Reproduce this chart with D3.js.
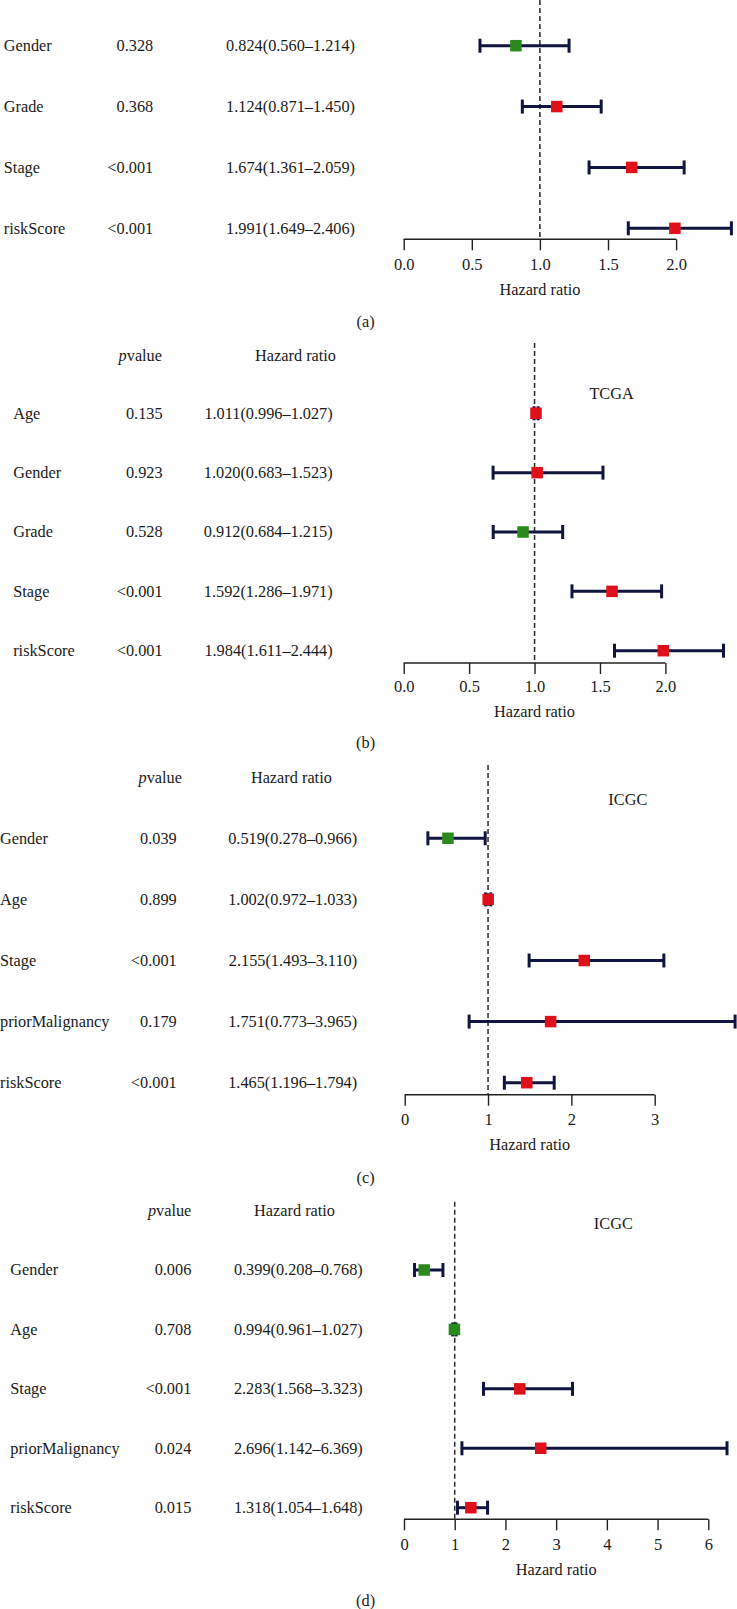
<!DOCTYPE html>
<html>
<head>
<meta charset="utf-8">
<script src="https://cdn.jsdelivr.net/npm/d3@7/dist/d3.min.js"></script>
<style>
  html, body { margin: 0; padding: 0; background: #fff; }
  svg { display: block; }
  text { font-family: "Liberation Serif", "DejaVu Serif", serif; fill: #1a1a1a; }
</style>
</head>
<body>
<div id="chart"></div>
<script>
// ---------------- DATA ----------------
// Panel (a)
const aLabels = ["Gender", "Grade", "Stage", "riskScore"];
const aPvals  = ["0.328", "0.368", "<0.001", "<0.001"];
const aHR     = [0.824, 1.124, 1.674, 1.991];
const aLow    = [0.560, 0.871, 1.361, 1.649];
const aHigh   = [1.214, 1.450, 2.059, 2.406];
const aTicks  = [0, 0.5, 1.0, 1.5, 2.0];

// Panel (b) TCGA
const bLabels = ["Age", "Gender", "Grade", "Stage", "riskScore"];
const bPvals  = ["0.135", "0.923", "0.528", "<0.001", "<0.001"];
const bHR     = [1.011, 1.020, 0.912, 1.592, 1.984];
const bLow    = [0.996, 0.683, 0.684, 1.286, 1.611];
const bHigh   = [1.027, 1.523, 1.215, 1.971, 2.444];
const bTicks  = [0, 0.5, 1.0, 1.5, 2.0];

// Panel (c) ICGC
const cLabels = ["Gender", "Age", "Stage", "priorMalignancy", "riskScore"];
const cPvals  = ["0.039", "0.899", "<0.001", "0.179", "<0.001"];
const cHR     = [0.519, 1.002, 2.155, 1.751, 1.465];
const cLow    = [0.278, 0.972, 1.493, 0.773, 1.196];
const cHigh   = [0.966, 1.033, 3.110, 3.965, 1.794];
const cTicks  = [0, 1, 2, 3];

// Panel (d) ICGC
const dLabels = ["Gender", "Age", "Stage", "priorMalignancy", "riskScore"];
const dPvals  = ["0.006", "0.708", "<0.001", "0.024", "0.015"];
const dHR     = [0.399, 0.994, 2.283, 2.696, 1.318];
const dLow    = [0.208, 0.961, 1.568, 1.142, 1.054];
const dHigh   = [0.768, 1.027, 3.323, 6.369, 1.648];
const dTicks  = [0, 1, 2, 3, 4, 5, 6];

const panelTitles = [null, "TCGA", "ICGC", "ICGC"];
const subLabels = ["(a)", "(b)", "(c)", "(d)"];
const headerP = "value";
const headerHR = "Hazard ratio";
const axisTitle = "Hazard ratio";

// ---------------- LAYOUT (positions/styles only) ----------------
const layout = [
  { firstRow: 45.7, lastRow: 228.3, axisY: 239.3, x0: 403.7, x1: 731.4, labelX: 3.8, pX: 153.2, hrX: 355,
    headerY: null, hPX: 0, hHRX: 0, titleX: 0, titleY: 0, dashTop: 0, tickLabY: 265, axisTitleY: 290, subY: 321.7, tickFmt: d3.format(".1f") },
  { firstRow: 413.3, lastRow: 650.7, axisY: 663, x0: 403.7, x1: 723.5, labelX: 13.2, pX: 162.6, hrX: 332.7,
    headerY: 356, hPX: 162, hHRX: 336, titleX: 611.6, titleY: 394, dashTop: 343, tickLabY: 687, axisTitleY: 711.7, subY: 743, tickFmt: d3.format(".1f") },
  { firstRow: 838.3, lastRow: 1082.7, axisY: 1094.7, x0: 404.7, x1: 735.1, labelX: 0, pX: 176.7, hrX: 357.1,
    headerY: 777.5, hPX: 181.9, hHRX: 331.8, titleX: 627.8, titleY: 799.3, dashTop: 765, tickLabY: 1120, axisTitleY: 1145, subY: 1177.3, tickFmt: d3.format("d") },
  { firstRow: 1270, lastRow: 1507.7, axisY: 1519.3, x0: 404, x1: 727.0, labelX: 10.3, pX: 191.3, hrX: 362.8,
    headerY: 1210.5, hPX: 191.3, hHRX: 335, titleX: 613.3, titleY: 1223.3, dashTop: 1201.7, tickLabY: 1545, axisTitleY: 1570, subY: 1601, tickFmt: d3.format("d") }
];

const panels = [
  { labels: aLabels, p: aPvals, hr: aHR, low: aLow, high: aHigh, ticks: aTicks },
  { labels: bLabels, p: bPvals, hr: bHR, low: bLow, high: bHigh, ticks: bTicks },
  { labels: cLabels, p: cPvals, hr: cHR, low: cLow, high: cHigh, ticks: cTicks },
  { labels: dLabels, p: dPvals, hr: dHR, low: dLow, high: dHigh, ticks: dTicks }
];

const FS = 16.3, TICKFS = 16.5;
const RED = "#e0101a", GREEN = "#2b8a1e", NAVY = "#10153f";
const W = 737, H = 1609;

const svg = d3.select("#chart").append("svg")
  .attr("width", W).attr("height", H).attr("viewBox", `0 0 ${W} ${H}`);
svg.append("rect").attr("width", W).attr("height", H).attr("fill", "#fff");

const f3 = d3.format(".3f");

panels.forEach((P, i) => {
  const L = layout[i];
  const n = P.labels.length;
  const g = svg.append("g");
  const maxHigh = d3.max(P.high);
  const x = d3.scaleLinear().domain([0, maxHigh]).range([L.x0, L.x1]);
  const y = d3.scaleLinear().domain([0, n - 1]).range([L.firstRow, L.lastRow]);
  const rows = d3.range(n).map(k => ({
    label: P.labels[k], p: P.p[k], hr: P.hr[k], low: P.low[k], high: P.high[k], k
  }));

  // headers
  if (L.headerY !== null) {
    const hp = g.append("text").attr("x", L.hPX).attr("y", L.headerY + 0.33 * FS)
      .attr("text-anchor", "end").attr("font-size", FS);
    hp.append("tspan").attr("font-style", "italic").text("p");
    hp.append("tspan").text(headerP);
    g.append("text").attr("x", L.hHRX).attr("y", L.headerY + 0.33 * FS)
      .attr("text-anchor", "end").attr("font-size", FS).text(headerHR);
  }
  if (panelTitles[i]) {
    g.append("text").attr("x", L.titleX).attr("y", L.titleY + 0.33 * FS)
      .attr("text-anchor", "middle").attr("font-size", FS).text(panelTitles[i]);
  }

  // text columns
  g.selectAll(".lab").data(rows).join("text")
    .attr("x", L.labelX).attr("y", d => y(d.k) + 0.33 * FS)
    .attr("font-size", FS).text(d => d.label);
  g.selectAll(".pv").data(rows).join("text")
    .attr("x", L.pX).attr("y", d => y(d.k) + 0.33 * FS)
    .attr("text-anchor", "end").attr("font-size", FS).text(d => d.p);
  g.selectAll(".hrt").data(rows).join("text")
    .attr("x", L.hrX).attr("y", d => y(d.k) + 0.33 * FS)
    .attr("text-anchor", "end").attr("font-size", FS)
    .text(d => `${f3(d.hr)}(${f3(d.low)}\u2013${f3(d.high)})`);

  // reference dashed line at HR = 1
  g.append("line")
    .attr("x1", x(1)).attr("x2", x(1))
    .attr("y1", L.dashTop).attr("y2", L.axisY)
    .attr("stroke", "#2a2a2a").attr("stroke-width", 1.5).attr("stroke-dasharray", "5,3");

  // CI lines
  g.selectAll(".ci").data(rows).join("line")
    .attr("x1", d => x(d.low)).attr("x2", d => x(d.high))
    .attr("y1", d => y(d.k)).attr("y2", d => y(d.k))
    .attr("stroke", NAVY).attr("stroke-width", 3);
  const capH = 7;
  ["low", "high"].forEach(key => {
    g.selectAll(".cap-" + key).data(rows).join("line")
      .attr("x1", d => x(d[key])).attr("x2", d => x(d[key]))
      .attr("y1", d => y(d.k) - capH).attr("y2", d => y(d.k) + capH)
      .attr("stroke", NAVY).attr("stroke-width", 3);
  });

  // boxes
  const bs = 11.5;
  g.selectAll(".box").data(rows).join("rect")
    .attr("x", d => x(d.hr) - bs / 2).attr("y", d => y(d.k) - bs / 2)
    .attr("width", bs).attr("height", bs)
    .attr("fill", d => d.hr < 1 ? GREEN : RED);

  // axis
  const ax = d3.axisBottom(x).tickValues(P.ticks).tickFormat(L.tickFmt).tickSize(11).tickSizeOuter(0);
  const axG = g.append("g").attr("transform", `translate(0,${L.axisY})`).call(ax);
  axG.select(".domain").remove();
  axG.selectAll(".tick line").attr("stroke", "#222").attr("stroke-width", 1.4);
  axG.selectAll(".tick text")
    .attr("y", L.tickLabY - L.axisY).attr("dy", 0.33 * TICKFS)
    .attr("font-size", TICKFS).attr("font-family", "Liberation Serif, serif").attr("fill", "#1a1a1a");
  axG.append("line")
    .attr("x1", x(P.ticks[0])).attr("x2", x(P.ticks[P.ticks.length - 1]))
    .attr("y1", 0).attr("y2", 0).attr("stroke", "#222").attr("stroke-width", 1.4);

  const mid = (P.ticks[0] + P.ticks[P.ticks.length - 1]) / 2;
  g.append("text").attr("x", x(mid)).attr("y", L.axisTitleY + 0.33 * FS)
    .attr("text-anchor", "middle").attr("font-size", FS).text(axisTitle);

  g.append("text").attr("x", 365.6).attr("y", L.subY + 0.33 * FS)
    .attr("text-anchor", "middle").attr("font-size", FS).text(subLabels[i]);
});
</script>
</body>
</html>
